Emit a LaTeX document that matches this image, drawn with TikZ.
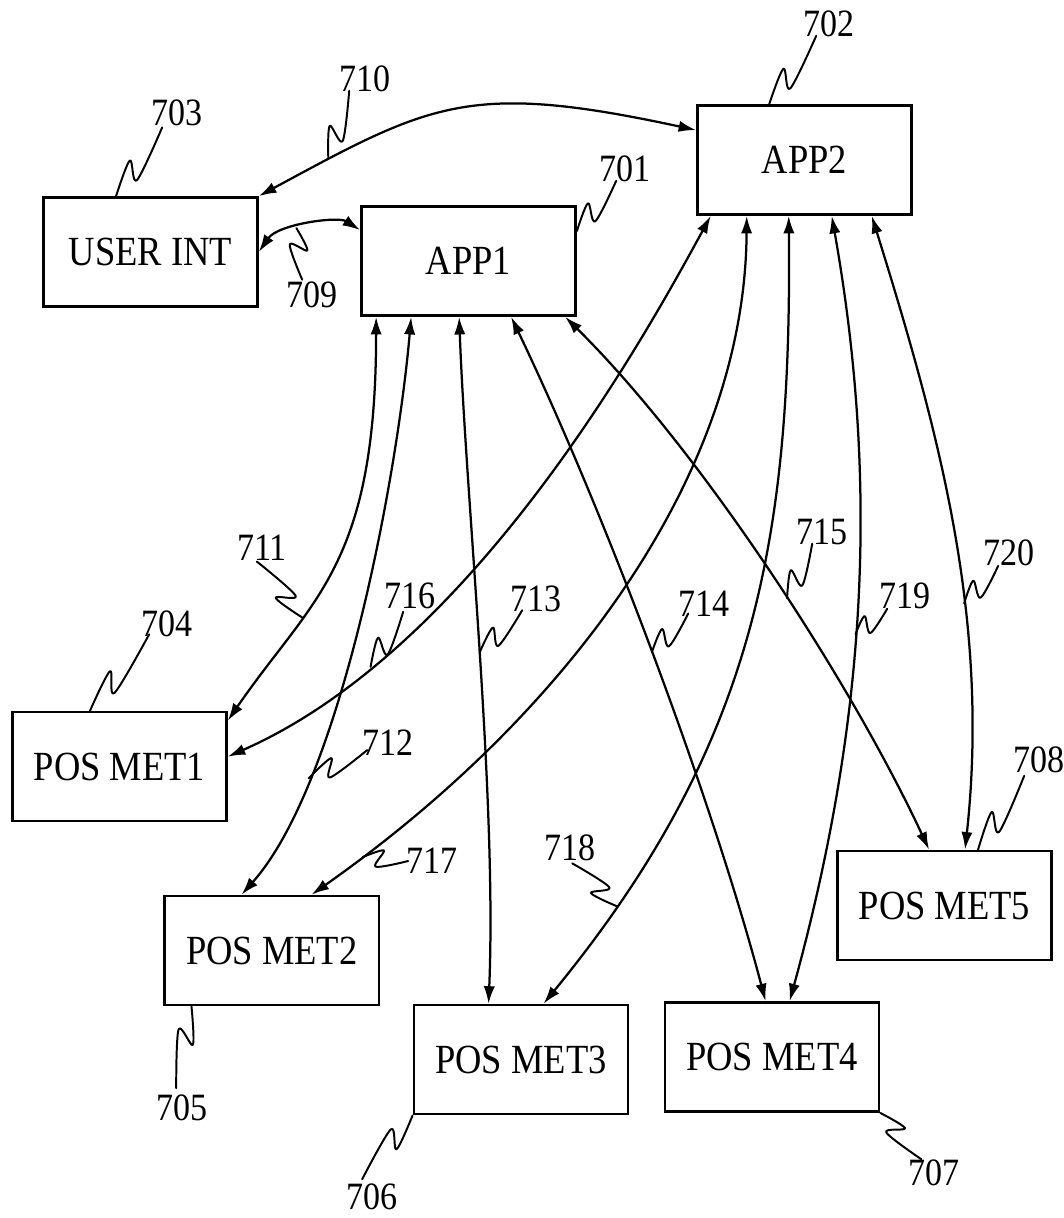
\documentclass[tikz,border=0pt]{standalone}
\usepackage{fontspec}
\setmainfont{Liberation Serif}[FakeStretch=0.88]
\usetikzlibrary{positioning,calc,arrows.meta}

\tikzset{
  box/.style={draw, line width=1.9pt, minimum width=5.35cm, minimum height=2.725cm,
    inner sep=0pt, font=\fontsize{29.5}{34}\selectfont},
  num/.style={inner sep=0pt, font=\fontsize{27.5}{32}\selectfont},
  conn/.style={<->, line width=1.6pt},
  leadline/.style={line width=1.4pt, line join=round, line cap=round},
}

\newcommand{\leader}[2]{%
  \path (#1) coordinate (la) (#2) coordinate (lb);
  \path ($(la)!.45!(lb)$) coordinate (lm) ($(la)!.3!(lb)$) coordinate (ln);
  \path ($(lm)!6pt!90:(lb)$) coordinate (lp) ($(ln)!6pt!-90:(lb)$) coordinate (lq);
  \draw[leadline] plot[smooth, tension=.55] coordinates {(la) (lp) (lq) (lb)};
}

\begin{document}
\begin{tikzpicture}[x=0.025cm, y=-0.025cm, >={Latex[length=12.5pt,width=8pt]}, on grid]
   \useasboundingbox (0,0) rectangle (1064,1218);

   \node[box] (app1) at (468.5,261) {APP1};
   \node[box] (ui)   [above left=0.225cm and 7.95cm of app1] {USER INT};
   \node[box] (app2) [above right=2.525cm and 8.4cm of app1] {APP2};
   \node[box] (pm1)  [below left=12.86cm and 0.775cm of ui] {POS MET1};
   \node[box] (pm2)  [below right=4.6cm and 3.81cm of pm1] {POS MET2};
   \node[box] (pm3)  [below right=2.725cm and 6.225cm of pm2] {POS MET3};
   \node[box] (pm4)  [above right=0.0625cm and 6.275cm of pm3] {POS MET4};
   \node[box] (pm5)  [above right=3.79cm and 4.31cm of pm4] {POS MET5};

   \draw[conn] (ui.east) .. controls (278,224) and (338,216) .. ($(app1.north west)+(0,25)$) coordinate[pos=.4] (k709);
   \draw[conn] (ui.north east) .. controls (431,103) and (469,81) .. ($(app2.north west)+(0,26)$) coordinate[pos=.15] (k710);
   \draw[conn] ($(app1.south west)+(16,0)$) .. controls (376,567) and (312,598) .. ($(pm1.north east)+(0,10)$) coordinate[pos=.67] (k711);
   \draw[conn] ($(app1.south west)+(51,0)$) .. controls (398,470) and (342,782) .. ($(pm2.north west)+(78,0)$) coordinate[pos=.75] (k712);
   \draw[conn] ($(app1.south west)+(99,0)$) .. controls (466,500) and (497,800) .. ($(pm3.north west)+(76,0)$) coordinate[pos=.5] (k713);
   \draw[conn] ($(app1.south west)+(151,0)$) .. controls (607,517) and (713,802) .. ($(pm4.north west)+(102,0)$) coordinate[pos=.49] (k714);
   \draw[conn] ($(app1.south west)+(205,0)$) .. controls (700,450) and (850,680) .. ($(pm5.north west)+(93,0)$) coordinate[pos=.55] (k715);
   \draw[conn] ($(app2.south west)+(14.5,0)$) .. controls (640,346) and (470,650) .. ($(pm1.north east)+(0,46)$) coordinate[pos=.79] (k716);
   \draw[conn] ($(app2.south west)+(50.5,0)$) .. controls (745,480) and (560,720) .. ($(pm2.north west)+(148,0)$) coordinate[pos=.93] (k717);
   \draw[conn] ($(app2.south west)+(92.5,0)$) .. controls (792,544) and (753,748) .. ($(pm3.north west)+(131,0)$) coordinate[pos=.87] (k718);
   \draw[conn] ($(app2.south west)+(135.5,0)$) .. controls (881,494) and (864,730) .. ($(pm4.north west)+(126,0)$) coordinate[pos=.53] (k719);
   \draw[conn] ($(app2.south west)+(175.5,0)$) .. controls (940,435) and (990,621) .. ($(pm5.north west)+(129,0)$) coordinate[pos=.62] (k720);

   \node[num] (l701) at (625,168.5) {701};
   \node[num] (l702) at (829,23.5) {702};
   \node[num] (l703) at (177,113) {703};
   \node[num] (l704) at (167,624) {704};
   \node[num] (l705) at (182,1107.5) {705};
   \node[num] (l706) at (372,1196.5) {706};
   \node[num] (l707) at (934,1172.5) {707};
   \node[num] (l708) at (1039,759.5) {708};
   \node[num] (l709) at (312,295) {709};
   \node[num] (l710) at (365,78.5) {710};
   \node[num] (l711) at (262,547.5) {711};
   \node[num] (l712) at (388,743) {712};
   \node[num] (l713) at (536,599) {713};
   \node[num] (l714) at (704,603.5) {714};
   \node[num] (l715) at (822,531.5) {715};
   \node[num] (l716) at (410,595.5) {716};
   \node[num] (l717) at (432,861) {717};
   \node[num] (l718) at (570,848) {718};
   \node[num] (l719) at (905,595.5) {719};
   \node[num] (l720) at (1009,552.5) {720};

   \leader{$(app1.north east)+(0,26)$}{$(l701.south west)+(17,-1)$}
   \leader{$(app2.north west)+(73,0)$}{$(l702.south west)+(13,-1)$}
   \leader{$(ui.north west)+(74,0)$}{$(l703.south west)+(11,1)$}
   \leader{$(pm1.north west)+(79,0)$}{$(l704.south west)+(8,-3)$}
   \leader{$(pm2.south west)+(28,0)$}{$(l705.north west)+(20,-6)$}
   \leader{pm3.south west}{$(l706.north west)+(16,-4)$}
   \leader{pm4.south east}{$(l707.north west)+(13,0)$}
   \leader{$(pm5.north west)+(142,0)$}{$(l708.south west)+(11,3)$}
   \leader{k709}{$(l709.north west)+(16,-2)$}
   \leader{k710}{$(l710.south west)+(10,-1)$}
   \leader{k711}{$(l711.south west)+(20,1)$}
   \leader{k712}{$(l712.south west)+(5,-6)$}
   \leader{k713}{$(l713.south west)+(12,-2)$}
   \leader{k714}{$(l714.south west)+(10,-3)$}
   \leader{k715}{$(l715.south west)+(16,-1)$}
   \leader{k716}{$(l716.south west)+(19,3)$}
   \leader{k717}{$(l717.west)+(2,0)$}
   \leader{k718}{$(l718.south west)+(28,2)$}
   \leader{k719}{$(l719.south west)+(8,0)$}
   \leader{k720}{$(l720.south west)+(15,0)$}
\end{tikzpicture}
\end{document}
